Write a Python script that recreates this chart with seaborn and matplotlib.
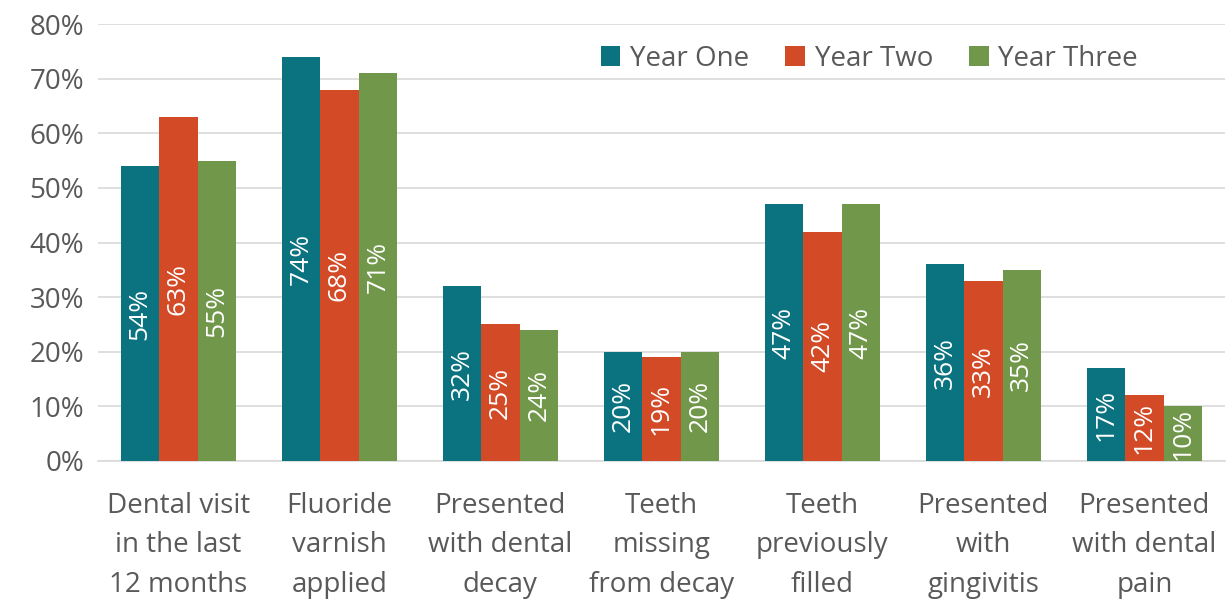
import matplotlib
matplotlib.use("Agg")
import matplotlib.pyplot as plt
import seaborn as sns
import pandas as pd

categories = ["Dental visit\nin the last\n12 months", "Fluoride\nvarnish\napplied",
              "Presented\nwith dental\ndecay", "Teeth\nmissing\nfrom decay",
              "Teeth\npreviously\nfilled", "Presented\nwith\ngingivitis",
              "Presented\nwith dental\npain"]
years = ["Year One", "Year Two", "Year Three"]
year_one = [54, 74, 32, 20, 47, 36, 17]
year_two = [63, 68, 25, 19, 42, 33, 12]
year_three = [55, 71, 24, 20, 47, 35, 10]
colors = ["#0B7380", "#D34A26", "#70974A"]

rows = []
for yr, vals in zip(years, [year_one, year_two, year_three]):
    for c, v in zip(categories, vals):
        rows.append({"cat": c, "year": yr, "val": v})
df = pd.DataFrame(rows)

sns.set_style("white")
plt.rcParams["font.family"] = ["Open Sans", "DejaVu Sans"]
grey = "#595959"

fig = plt.figure(figsize=(12.31, 6.01), dpi=100)
ax = fig.add_axes([0.0796, 0.233, 0.9154, 0.727])

sns.barplot(data=df, x="cat", y="val", hue="year", palette=colors,
            width=0.715, saturation=1, ax=ax, zorder=3, linewidth=0, edgecolor="none")

for cont in ax.containers:
    for bar in cont:
        h = bar.get_height()
        ax.text(bar.get_x() + bar.get_width() / 2, h / 2, f"{h:.0f}%",
                rotation=90, ha="center", va="center", color="white",
                fontsize=19, zorder=4)

ax.set_ylim(0, 80)
ax.set_yticks(range(0, 81, 10))
ax.set_yticklabels([f"{t}%" for t in range(0, 81, 10)])
ax.yaxis.grid(True, color="#D9D9D9", linewidth=1.2, zorder=0)
ax.set_xlim(-0.5, 6.5)
for s in ["top", "right", "left"]:
    ax.spines[s].set_visible(False)
ax.spines["bottom"].set_color("#D9D9D9")
ax.spines["bottom"].set_linewidth(1.2)
ax.tick_params(axis="both", length=0, colors=grey, labelsize=20)
ax.tick_params(axis="x", pad=22)
ax.tick_params(axis="y", pad=10)
ax.set_xlabel("")
ax.set_ylabel("")
for t in ax.get_xticklabels():
    t.set_linespacing(1.55)

leg = ax.legend(loc="upper right", bbox_to_anchor=(0.945, 1.01), ncol=3, frameon=False,
                fontsize=20, handlelength=0.7, handleheight=0.7, handletextpad=0.35,
                columnspacing=1.3)
for t in leg.get_texts():
    t.set_color(grey)

fig.savefig("out.png", dpi=100)
